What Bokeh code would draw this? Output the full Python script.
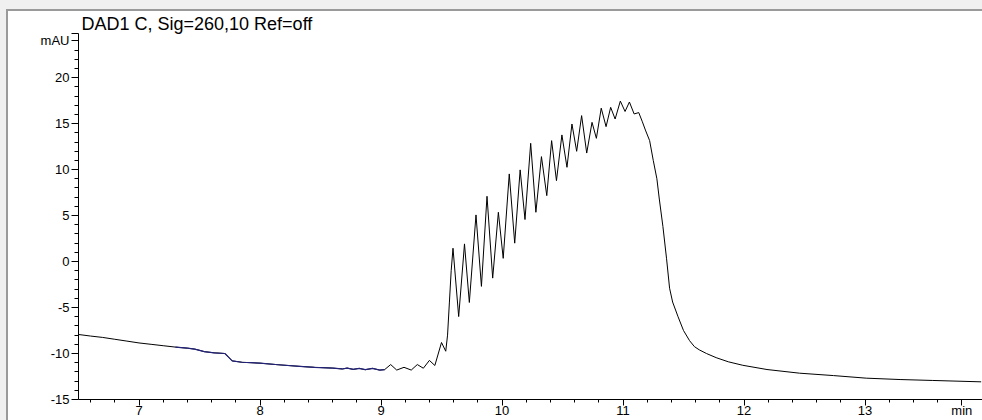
import numpy as np
from bokeh.plotting import figure
from bokeh.models import FixedTicker, Range1d
from bokeh.embed import file_html
from bokeh.resources import INLINE

# ---- data (time in min, signal in mAU) ----
time_min = [
    6.50, 6.60, 6.70, 6.80, 6.90, 7.00, 7.10, 7.20, 7.30, 7.40,
    7.46, 7.50, 7.54, 7.62, 7.71, 7.74, 7.77, 7.85, 8.00, 8.15,
    8.33, 8.45, 8.60, 8.68, 8.72, 8.77, 8.82, 8.87, 8.93, 8.99,
    9.03, 9.08, 9.13, 9.19, 9.25, 9.30, 9.35, 9.40, 9.445, 9.50,
    9.535, 9.55, 9.565, 9.58, 9.595, 9.642, 9.69, 9.73, 9.785, 9.83,
    9.876, 9.923, 9.97, 10.01, 10.06, 10.105, 10.15, 10.19, 10.237, 10.28,
    10.326, 10.37, 10.41, 10.45, 10.495, 10.537, 10.578, 10.617, 10.658, 10.70,
    10.744, 10.78, 10.82, 10.86, 10.898, 10.935, 10.978, 11.017, 11.053, 11.092,
    11.13, 11.16, 11.185, 11.22, 11.25, 11.28, 11.30, 11.33, 11.36, 11.385,
    11.41, 11.455, 11.50, 11.55, 11.59, 11.63, 11.69, 11.77, 11.87, 11.99,
    12.19, 12.46, 12.74, 13.01, 13.29, 13.56, 13.96,
]
signal_mau = [
    -7.93, -8.10, -8.25, -8.45, -8.65, -8.85, -9.00, -9.15, -9.30, -9.42,
    -9.52, -9.65, -9.80, -9.92, -10.00, -10.40, -10.80, -10.95, -11.05, -11.22,
    -11.40, -11.50, -11.58, -11.68, -11.58, -11.72, -11.62, -11.76, -11.62, -11.80,
    -11.75, -11.20, -11.80, -11.50, -11.80, -11.20, -11.60, -10.75, -11.30, -8.80,
    -9.75, -8.00, -4.50, -1.00, 1.45, -5.98, 1.92, -4.45, 5.07, -2.70,
    7.10, -1.80, 5.36, 0.35, 9.53, 2.00, 9.97, 4.57, 12.86, 5.36,
    11.41, 7.17, 13.15, 8.80, 13.77, 10.25, 14.96, 11.99, 15.87, 11.80,
    15.14, 13.40, 16.68, 14.67, 16.77, 15.50, 17.45, 16.32, 17.35, 16.05,
    16.20, 15.20, 14.30, 13.15, 11.00, 9.00, 6.80, 3.80, 0.30, -2.90,
    -4.40, -6.00, -7.50, -8.60, -9.25, -9.60, -10.00, -10.45, -10.90, -11.28,
    -11.74, -12.14, -12.40, -12.68, -12.83, -12.93, -13.08,
]
# integrated-baseline overlay segment (drawn in navy)
baseline_start = 7.30
baseline_end = 9.03

x_major_ticks = [7, 8, 9, 10, 11, 12, 13]
y_major_ticks = [-15, -10, -5, 0, 5, 10, 15, 20]
title_text = "DAD1 C, Sig=260,10 Ref=off"
y_unit = "mAU"
x_unit = "min"

X_START, X_END = 6.5, 13.971
Y_START, Y_END = -15, 24.8
Y_UNIT_POS = 24      # the y-unit label sits at this tick
X_UNIT_POS = 13.8    # the x-unit label sits at this tick
FONT = "Liberation Sans"

t = np.array(time_min)
s = np.array(signal_mau)
mask = (t >= baseline_start) & (t <= baseline_end)

p = figure(width=982, height=420, x_range=Range1d(X_START, X_END),
           y_range=Range1d(Y_START, Y_END), output_backend="svg",
           toolbar_location=None, min_border_left=78, min_border_right=0,
           min_border_top=33, min_border_bottom=21)
p.xgrid.visible = False
p.ygrid.visible = False
p.outline_line_color = None
p.background_fill_color = "white"
p.border_fill_color = None
p.styles = {"background": "white",
            "box-shadow": "inset 6px 9px 0 0 #f0f0f0, inset 8px 11px 0 0 #9a9a9a"}

# title
p.title.text = title_text
p.title.align = "left"
p.title.offset = 3
p.title.standoff = 0
p.title.text_font = FONT
p.title.text_font_size = "18px"
p.title.text_font_style = "normal"
p.title.text_color = "black"

p.line(t, s, line_color="black", line_width=1, line_join="round")
p.line(t[mask], s[mask], line_color="#22227a", line_width=1.2, line_join="round")

# x axis
xa = p.xaxis[0]
x_minor = [round(v, 1) for v in np.arange(6.6, 13.9, 0.2)]
xa.ticker = FixedTicker(ticks=x_major_ticks + [X_UNIT_POS],
                        minor_ticks=[v for v in x_minor if v != X_UNIT_POS])
xa.major_label_overrides = {X_UNIT_POS: x_unit}
xa.axis_line_color = "black"
xa.major_tick_line_color = "black"
xa.minor_tick_line_color = "black"
xa.major_tick_in = 0
xa.major_tick_out = 6
xa.minor_tick_in = 0
xa.minor_tick_out = 3
xa.major_label_standoff = -3
xa.major_label_text_font = FONT
xa.major_label_text_font_size = "13px"
xa.major_label_text_color = "black"

# y axis
ya = p.yaxis[0]
ya.ticker = FixedTicker(ticks=y_major_ticks + [Y_UNIT_POS, Y_END],
                        minor_ticks=[v for v in range(-14, 24) if v % 5 != 0])
overrides = {v: ("-%d" % abs(v) if v < 0 else str(v)) for v in y_major_ticks}
overrides[Y_UNIT_POS] = y_unit
overrides[Y_END] = ""
ya.major_label_overrides = overrides
ya.axis_line_color = "black"
ya.major_tick_line_color = "black"
ya.minor_tick_line_color = "black"
ya.major_tick_in = 0
ya.major_tick_out = 7
ya.minor_tick_in = 0
ya.minor_tick_out = 4
ya.major_label_standoff = 2
ya.major_label_text_font = FONT
ya.major_label_text_font_size = "13px"
ya.major_label_text_color = "black"

open("out.html", "w").write(file_html(p, INLINE))
